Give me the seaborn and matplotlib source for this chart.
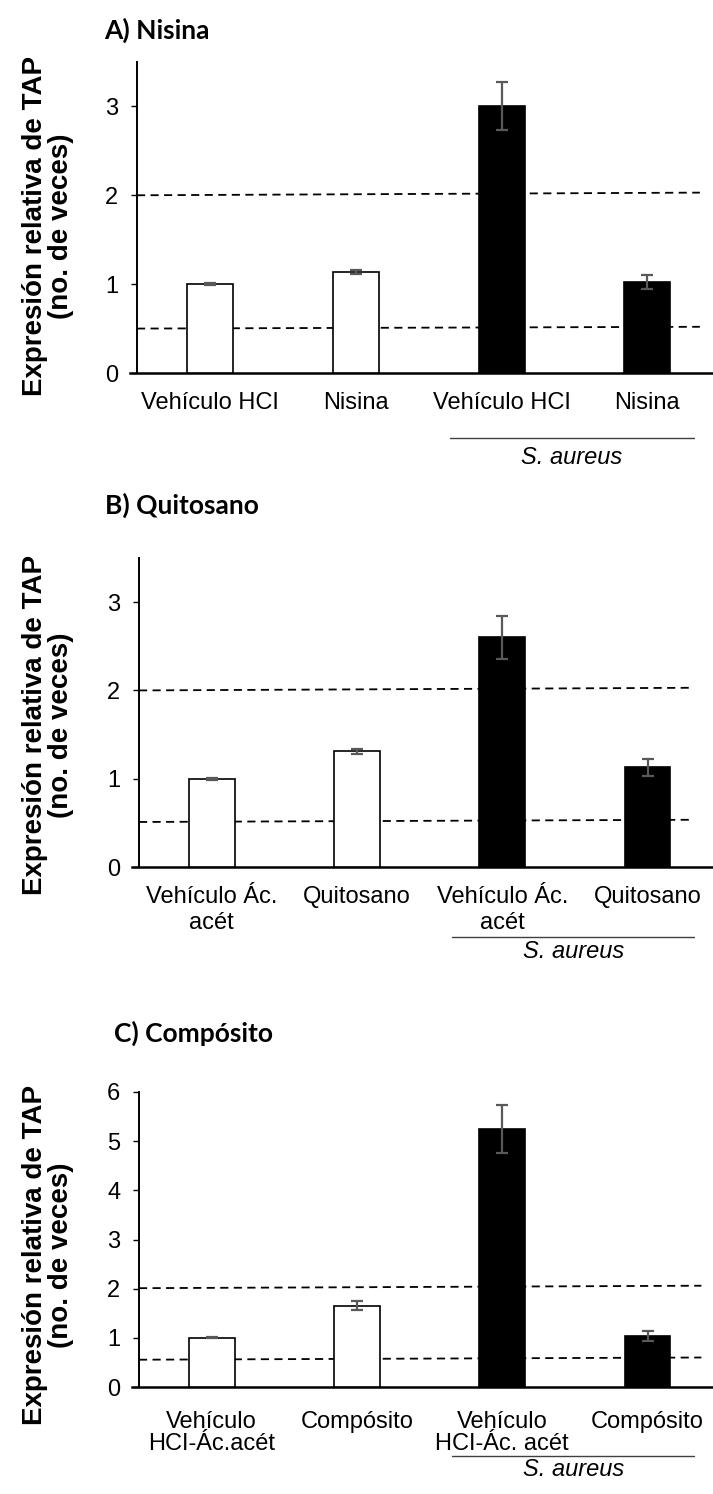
import matplotlib
matplotlib.use("Agg")
import matplotlib.pyplot as plt
import matplotlib.transforms as mtransforms
import seaborn as sns
import pandas as pd

# ---------------- data ----------------
keys = ["ctrl_veh", "ctrl_trt", "sa_veh", "sa_trt"]
bar_colors = ["white", "white", "black", "black"]

titles = ["A) Nisina", "B) Quitosano", "C) Compósito"]

labels_a = ["Vehículo HCI", "Nisina", "Vehículo HCI", "Nisina"]
values_a = [1.00, 1.135, 3.01, 1.02]
errors_a = [0.01, 0.02, 0.27, 0.08]
upper_a = [2.00, 2.03]
lower_a = [0.50, 0.52]

labels_b = ["Vehículo Ác.\nacét", "Quitosano", "Vehículo Ác.\nacét", "Quitosano"]
values_b = [1.00, 1.31, 2.60, 1.13]
errors_b = [0.01, 0.03, 0.245, 0.095]
upper_b = [2.00, 2.03]
lower_b = [0.51, 0.535]

labels_c = ["Vehículo\nHCI-Ác.acét", "Compósito", "Vehículo\nHCI-Ác. acét", "Compósito"]
values_c = [1.00, 1.65, 5.25, 1.04]
errors_c = [0.01, 0.09, 0.49, 0.10]
upper_c = [2.01, 2.06]
lower_c = [0.555, 0.60]

ylims = [3.5, 3.5, 6.0]
yticks = [[0, 1, 2, 3], [0, 1, 2, 3], [0, 1, 2, 3, 4, 5, 6]]
group_label = "S. aureus"
ylabel = "Expresión relativa de TAP\n(no. de veces)"

# ---------------- layout (pixels) ----------------
W, H = 713, 1494
DPI = 100
sns.set_theme(style="white")
plt.rcParams["font.family"] = ["Liberation Sans", "DejaVu Sans"]

fig = plt.figure(figsize=(W / DPI, H / DPI), dpi=DPI)

panels = [
    dict(title=titles[0], labels=labels_a, values=values_a, errors=errors_a,
         upper=upper_a, lower=lower_a, left=137, top=62, bottom=373,
         title_xy=(104, 30), ylab_y=226, dash_end=3.36, lsp=1.2, pad=14,
         grp_line_y=438, grp_text_y=457, grp_x=(1.645, 3.32)),
    dict(title=titles[1], labels=labels_b, values=values_b, errors=errors_b,
         upper=upper_b, lower=lower_b, left=139, top=558, bottom=867,
         title_xy=(105, 505), ylab_y=725, dash_end=3.31, lsp=1.2, pad=14,
         grp_line_y=937, grp_text_y=951, grp_x=(1.655, 3.32)),
    dict(title=titles[2], labels=labels_c, values=values_c, errors=errors_c,
         upper=upper_c, lower=lower_c, left=139, top=1092, bottom=1387,
         title_xy=(114, 1033), ylab_y=1255, dash_end=3.37, lsp=1.05, pad=17,
         grp_line_y=1456, grp_text_y=1469, grp_x=(1.655, 3.32)),
]

for i, p in enumerate(panels):
    left, top, bottom = p["left"], p["top"], p["bottom"]
    ax = fig.add_axes([left / W, 1 - bottom / H, (W - left) / W, (bottom - top) / H])
    df = pd.DataFrame({"key": keys, "value": p["values"]})
    sns.barplot(data=df, x="key", y="value", hue="key", order=keys,
                palette=dict(zip(keys, bar_colors)), edgecolor="black",
                linewidth=1.2, width=0.315, errorbar=None, legend=False, ax=ax,
                zorder=3)
    ax.errorbar(range(len(keys)), p["values"], yerr=p["errors"], fmt="none",
                ecolor="#595959", elinewidth=1.6, capsize=4.3, capthick=1.6,
                zorder=4)
    # threshold dashed lines
    for thr in (p["upper"], p["lower"]):
        ax.plot([-0.5, p["dash_end"]], thr, ls=(0, (4.5, 3.0)), color="black",
                lw=1.3, zorder=2)

    ax.set_xlim(-0.5, 3.45)
    ax.set_ylim(0, ylims[i])
    ax.set_yticks(yticks[i])
    ax.set_yticklabels([str(t) for t in yticks[i]])
    ax.set_xticks(range(len(keys)))
    ax.set_xticklabels(p["labels"], linespacing=p["lsp"])
    ax.set_xlabel("")
    ax.set_ylabel("")
    ax.tick_params(axis="x", length=0, pad=p["pad"], labelsize=17, colors="black")
    ax.tick_params(axis="y", left=True, length=4.5, width=1, pad=9,
                   labelsize=17, colors="black", direction="out")
    for s in ("top", "right"):
        ax.spines[s].set_visible(False)
    ax.spines["left"].set_color("black")
    ax.spines["left"].set_linewidth(1.4)
    ax.spines["bottom"].set_color("black")
    ax.spines["bottom"].set_linewidth(1.8)
    ax.spines["bottom"].set_bounds(-0.545, 3.45)
    ax.grid(False)

    # group line & label (data x, pixel-derived axes y)
    h = bottom - top
    trans = mtransforms.blended_transform_factory(ax.transData, ax.transAxes)
    gy = (bottom - p["grp_line_y"]) / h
    ty = (bottom - p["grp_text_y"]) / h
    ax.plot(p["grp_x"], [gy, gy], color="#404040", lw=1.0, transform=trans,
            clip_on=False)
    ax.text(sum(p["grp_x"]) / 2 + 0.0, ty, group_label, transform=trans,
            ha="center", va="center", fontsize=17, style="italic",
            color="black")

    # title
    fig.text(p["title_xy"][0] / W, 1 - p["title_xy"][1] / H, p["title"],
             ha="left", va="center", fontsize=19, fontweight="bold",
             family=["Lato", "DejaVu Sans"], color="black")
    # y label
    fig.text(48 / W, 1 - p["ylab_y"] / H, ylabel, rotation=90, ha="center",
             va="center", fontsize=20, fontweight="bold", linespacing=0.95,
             multialignment="center", family=["Liberation Sans", "DejaVu Sans"],
             color="black")

fig.savefig("out.png", dpi=DPI)
